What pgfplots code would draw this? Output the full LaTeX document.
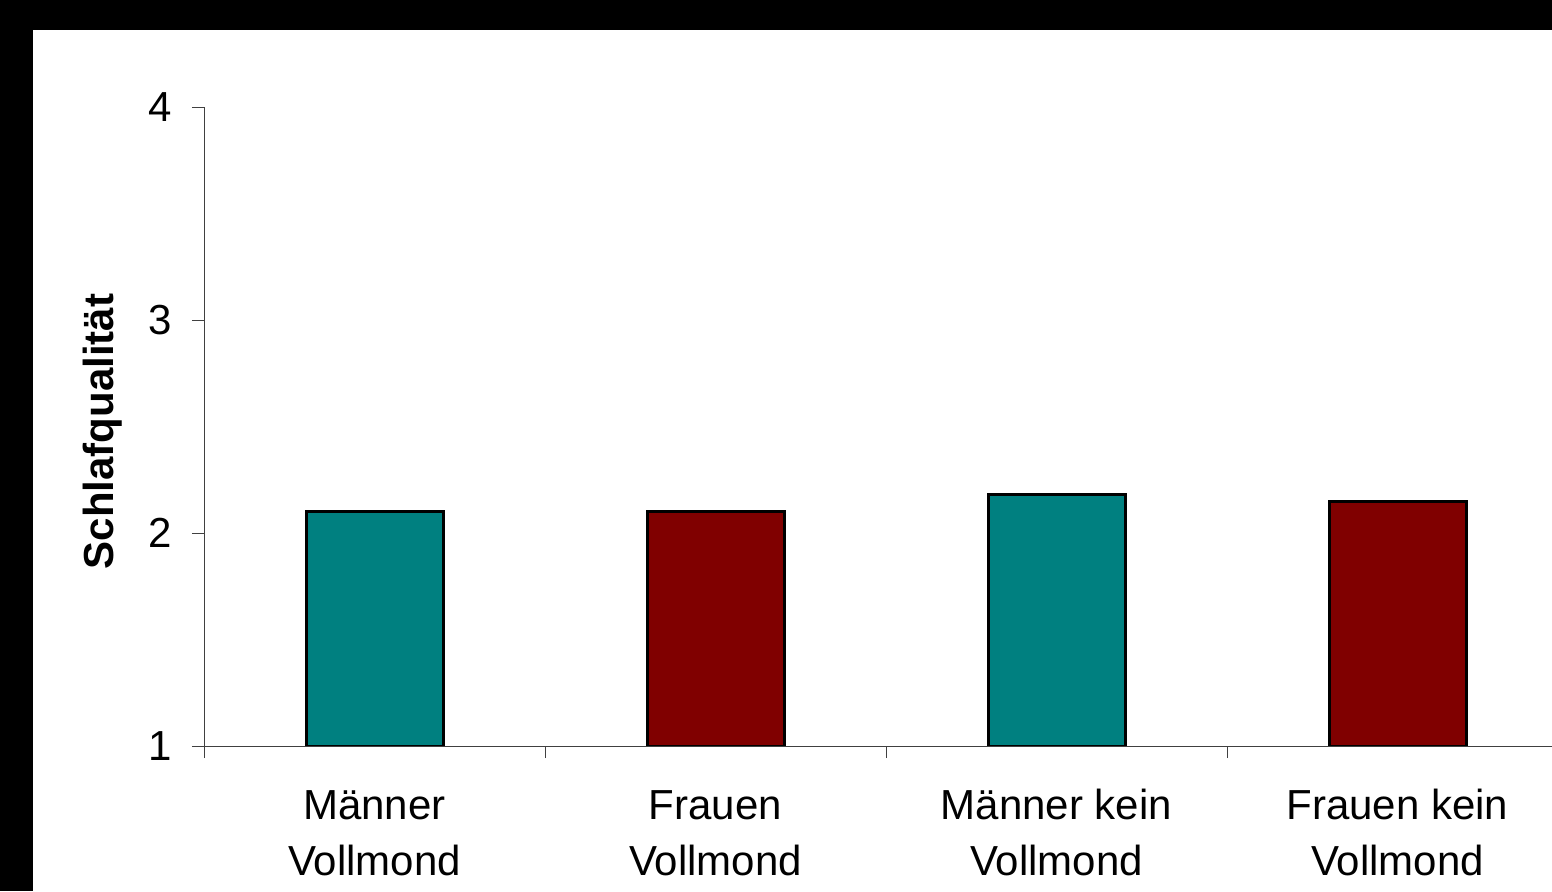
\documentclass[border=0pt]{standalone}
\usepackage{pgfplots}
\pgfplotsset{compat=1.18}
\usepackage{fontspec}
\setmainfont{Liberation Sans}
\definecolor{barteal}{RGB}{0,128,128}
\definecolor{barmaroon}{RGB}{128,0,0}
\begin{document}
\begin{tikzpicture}
\fill[black] (0pt,0pt) rectangle (776pt,445.5pt);
\fill[white] (16.5pt,0pt) rectangle (776pt,430.5pt);
\begin{axis}[
  at={(102pt,72.5pt)}, anchor=south west,
  scale only axis, width=682pt, height=319.5pt,
  xmin=-0.5, xmax=3.5, ymin=1, ymax=4,
  axis x line*=bottom, axis y line*=left,
  axis line style={black!75, line width=0.5pt},
  axis on top=true,
  /pgf/number format/assume math mode=true,
  tick align=outside,
  major tick length=6pt,
  tick style={black!75, line width=0.5pt},
  ytick={1,2,3,4},
  yticklabel style={font=\fontsize{21}{24}\selectfont, xshift=-6.5pt},
  xtick={-0.5,0.5,1.5,2.5,3.5},
  x tick label as interval,
  xticklabels={{\strut Männer\\Vollmond},{\strut Frauen\\Vollmond},{\strut Männer kein\\Vollmond},{\strut Frauen kein\\Vollmond}},
  xticklabel style={align=center, font=\fontsize{21}{28}\selectfont, yshift=-7.5pt},
  every axis y label/.style={at={(axis description cs:-0.0740,0.492)}, anchor=center, rotate=90, font=\fontsize{21}{24}\selectfont\bfseries},
  ylabel={Schlafqualität},
]
\addplot[ybar, bar width=68.5pt, bar shift=0pt, fill=barteal, draw=black, line width=1.5pt]
  coordinates {(0,2.10) (2,2.18)};
\addplot[ybar, bar width=68.5pt, bar shift=0pt, fill=barmaroon, draw=black, line width=1.5pt]
  coordinates {(1,2.10) (3,2.15)};
\end{axis}
\pgfresetboundingbox
\useasboundingbox (0pt,0pt) rectangle (776pt,445.5pt);
\end{tikzpicture}
\end{document}
